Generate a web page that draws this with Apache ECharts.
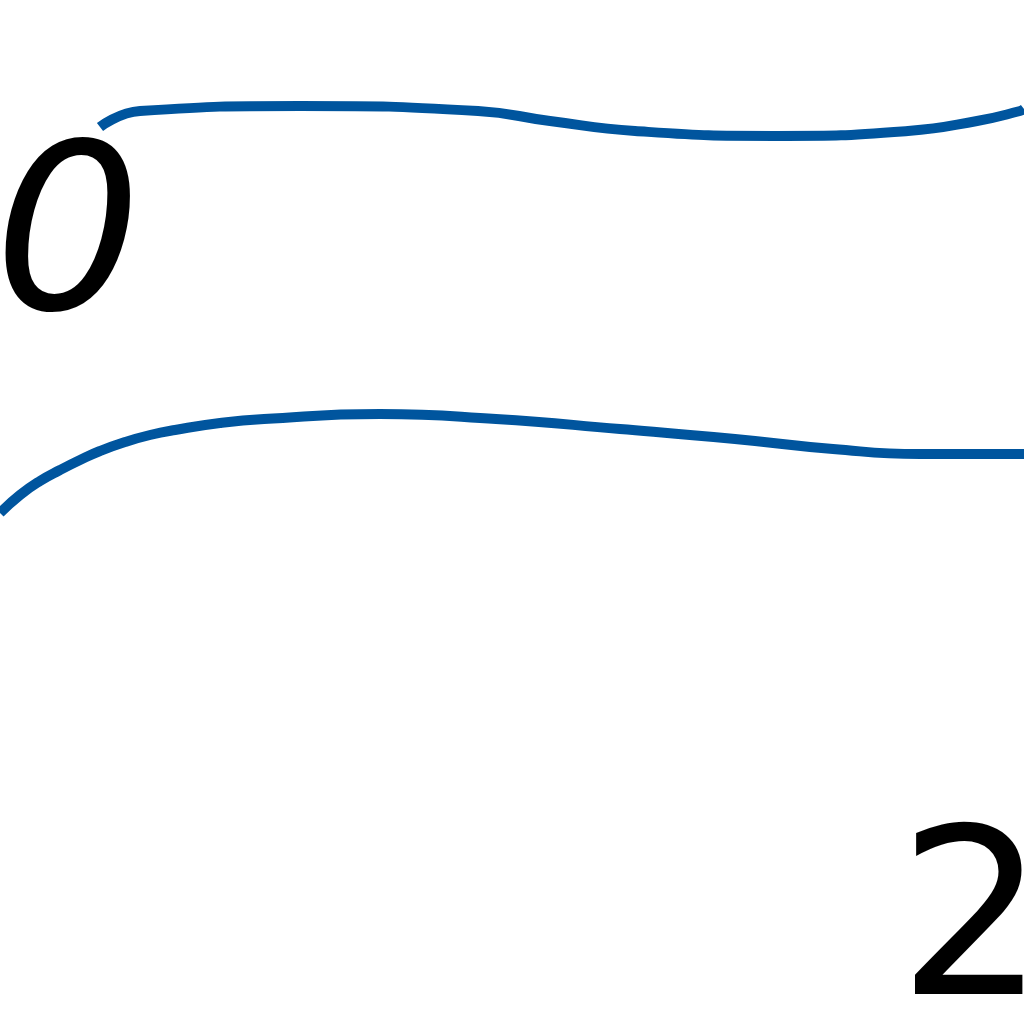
<!DOCTYPE html>
<html>
<head>
<meta charset="utf-8">
<script src="https://cdn.jsdelivr.net/npm/echarts@6/dist/echarts.min.js"></script>
<style>
html,body{margin:0;padding:0;background:#fff;}
#chart{width:1024px;height:1024px;}
</style>
</head>
<body>
<div id="chart"></div>
<script>
// Values (x: horizontal position, y: value, both on a 0..1024 scale)
const upperX = [100, 140, 300, 478, 550, 635, 775, 908, 977, 1020, 1024];
const upperY = [897, 913, 918, 913, 903, 893, 888, 893, 903, 913, 915];
const lowerX = [0, 20, 40, 60, 80, 100, 125, 150, 175, 220, 264, 380, 496, 620, 735, 833, 920, 1024];
const lowerY = [511, 529, 543, 554, 564, 573, 582, 589, 594, 601, 605, 610, 605, 595, 585, 575, 570, 570];
const tickLabels = ['0', '2'];

const lineColor = '#00559e';
const pair = (xs, ys) => xs.map((x, i) => [x, ys[i]]);

const chart = echarts.init(document.getElementById('chart'), null, {renderer: 'canvas'});
chart.setOption({
  animation: false,
  grid: {left: 0, right: 0, top: 0, bottom: 0},
  xAxis: {type: 'value', min: 0, max: 1024, show: false},
  yAxis: {type: 'value', min: 0, max: 1024, show: false},
  series: [
    {type: 'line', data: pair(upperX, upperY), smooth: 0.5, symbol: 'none',
     lineStyle: {color: lineColor, width: 10, cap: 'butt'}},
    {type: 'line', data: pair(lowerX, lowerY), smooth: 0.5, symbol: 'none',
     lineStyle: {color: lineColor, width: 10, cap: 'butt'}}
  ],
  graphic: [
    {type: 'text', left: -6, top: 133, style: {text: tickLabels[0], font: 'italic 232px "DejaVu Sans"', fill: '#000'}},
    {type: 'text', left: 898, top: 818, style: {text: tickLabels[1], font: '232px "DejaVu Sans"', fill: '#000'}}
  ]
});
</script>
</body>
</html>
